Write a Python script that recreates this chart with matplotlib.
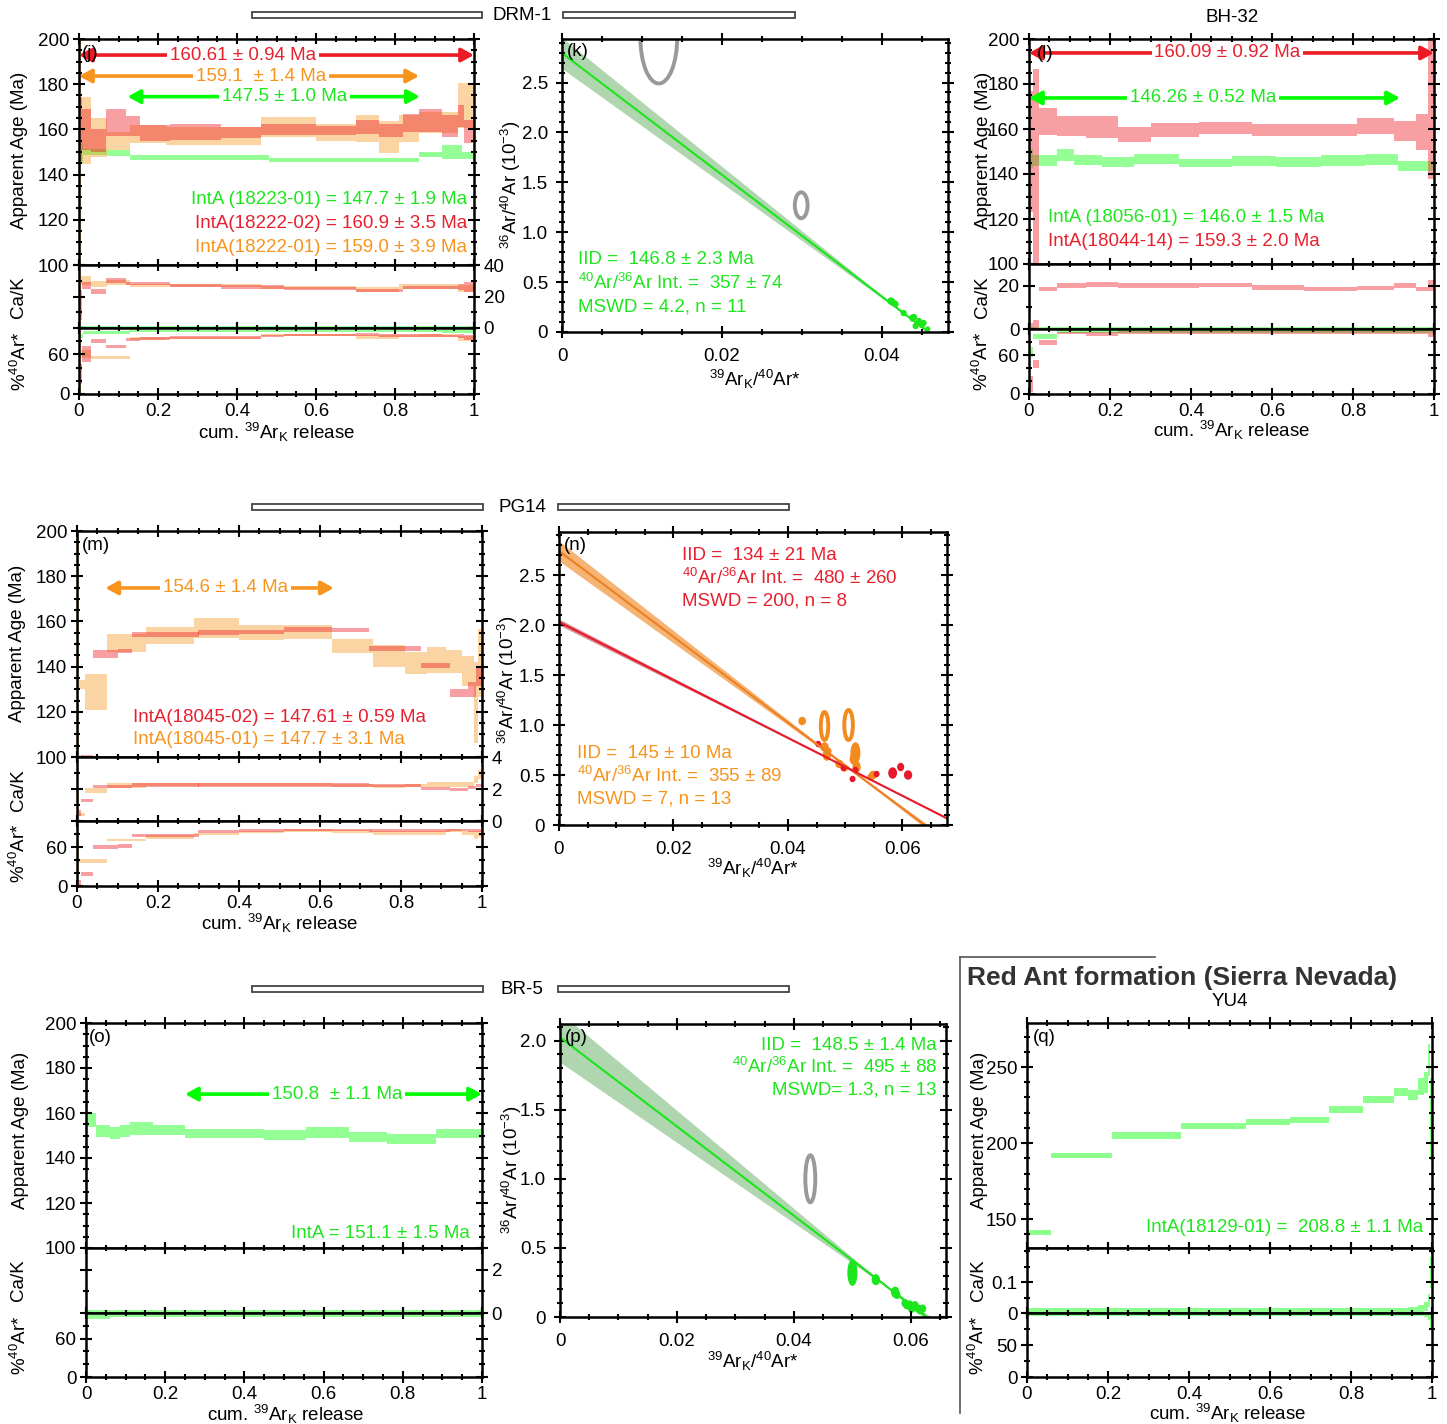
import numpy as np
import matplotlib
matplotlib.use("Agg")
import matplotlib.pyplot as plt
from matplotlib.patches import Ellipse, Rectangle
from matplotlib.lines import Line2D
from matplotlib.ticker import MultipleLocator, FixedLocator, FuncFormatter

plt.rcParams['font.family'] = ['Liberation Sans', 'DejaVu Sans']
plt.rcParams['mathtext.fontset'] = 'custom'
plt.rcParams['mathtext.rm'] = 'Liberation Sans'
plt.rcParams['mathtext.it'] = 'Liberation Sans:italic'
plt.rcParams['mathtext.bf'] = 'Liberation Sans:bold'
plt.rcParams['font.size'] = 13.5

# ---------------- data: step-heating spectra ----------------
# DRM-1, red = 18222-02
drm_r_edges = [0, 0.008, 0.03, 0.068, 0.12, 0.155, 0.23, 0.36, 0.46, 0.52, 0.6, 0.7, 0.76, 0.82, 0.86, 0.92, 0.96, 0.975, 1.0]
drm_r_age = [160, 160, 155, 163, 161.5, 158.5, 159, 158.5, 160, 160, 159.5, 161, 159.5, 163, 164, 161.5, 166, 159]
drm_r_age_err = [14, 9, 5, 6, 4.5, 3.5, 3.5, 2.5, 2.5, 2.5, 2, 3, 3, 4, 5, 5, 5, 5]
drm_r_cak = [14.5, 27, 23, 30, 28, 28, 27, 26, 26, 25, 25, 24, 24, 25.5, 25.5, 25.5, 26, 26]
drm_r_cak_err = [9.5, 2, 1.5, 1.5, 1, 1, 1, 1, 1, 1, 1, 1, 1, 1, 1, 1, 2, 3]
drm_r_rad = [30, 60, 80, 72, 83, 84, 86, 86, 88, 90, 90, 90, 89, 89, 89, 88, 88, 86]
drm_r_rad_err = [15, 12, 3, 2, 2, 2, 2, 2, 1.5, 1.5, 1.5, 2, 2, 2, 2, 2, 3, 4]
# DRM-1, orange = 18222-01
drm_o_edges = [0, 0.005, 0.03, 0.07, 0.13, 0.22, 0.46, 0.6, 0.7, 0.76, 0.81, 0.86, 0.96, 1.0]
drm_o_age = [150, 159.5, 156.5, 155, 158, 157, 161, 158.5, 160.5, 156.5, 160.5, 163, 170.5]
drm_o_age_err = [50, 15, 8.5, 4, 4, 4, 4.3, 3.7, 6, 7, 6, 4.5, 10]
drm_o_cak = [20, 30, 28, 29, 27, 27, 25.5, 25.5, 24.5, 24.5, 26.5, 26.5, 25]
drm_o_cak_err = [20, 3, 2, 1.5, 1, 1, 1, 1, 1.5, 1.5, 1.5, 1.5, 2]
drm_o_rad = [50, 60, 55, 55, 84, 85, 90, 90, 86, 86, 88, 89, 84]
drm_o_rad_err = [50, 6, 2, 2, 2, 2, 1.5, 1.5, 3, 3, 2, 2, 4]
# DRM-1, green = 18223-01
drm_g_edges = [0, 0.01, 0.07, 0.13, 0.48, 0.86, 0.92, 0.97, 1.0]
drm_g_age = [149.5, 150, 149.5, 147.5, 146.5, 149, 150, 148.5]
drm_g_age_err = [4.5, 1.3, 1.2, 1.1, 1, 1.2, 3, 1.7]
drm_g_cak = [0.6, 0.6, 0.6, 0.6, 0.6, 0.6, 0.6, 0.6]
drm_g_cak_err = [0.5, 0.5, 0.5, 0.5, 0.5, 0.5, 0.5, 0.5]
drm_g_rad = [88, 93, 93, 95, 95, 95, 95, 95]
drm_g_rad_err = [3, 2, 2, 1.5, 1.5, 1.5, 2, 2]

# BH-32, red = 18044-14
bh_r_edges = [0, 0.01, 0.025, 0.07, 0.14, 0.22, 0.3, 0.42, 0.55, 0.68, 0.81, 0.9, 0.955, 0.985, 1.0]
bh_r_age = [150, 143, 163.5, 161.3, 161, 157.7, 159.6, 160.4, 159.5, 159.5, 161.4, 159, 158.5, 169]
bh_r_age_err = [27, 43.5, 6, 4.3, 5, 3.3, 3, 2.5, 2.8, 2.8, 3.7, 4.5, 8, 31]
bh_r_cak = [1, 2, 18.5, 20, 20.5, 20, 20, 20.2, 19.2, 18.5, 19, 20, 18.5, 20]
bh_r_cak_err = [2, 2, 1, 1, 1, 1, 1, 1, 1, 1, 1, 1, 1, 2.5]
bh_r_rad = [15, 46, 79, 94, 92, 95, 95, 95, 95, 95, 95, 95, 95, 92]
bh_r_rad_err = [12, 6, 4, 2, 3, 2, 2, 2, 2, 2, 2, 2, 2, 5]
# BH-32, green = 18056-01
bh_g_edges = [0, 0.01, 0.07, 0.11, 0.18, 0.26, 0.37, 0.5, 0.61, 0.72, 0.83, 0.91, 1.0]
bh_g_age = [147, 146, 148.5, 146.3, 145.5, 146.8, 144.8, 145.8, 145.3, 146.1, 146.6, 143.6]
bh_g_age_err = [4.2, 2.6, 2.8, 2.2, 2.2, 2.2, 1.9, 2.2, 2.4, 2.4, 2.4, 2.2]
bh_g_cak = [0.5, 0.5, 0.5, 0.5, 0.5, 0.5, 0.5, 0.5, 0.5, 0.5, 0.5, 0.5]
bh_g_cak_err = [0.5, 0.5, 0.5, 0.5, 0.5, 0.5, 0.5, 0.5, 0.5, 0.5, 0.5, 0.5]
bh_g_rad = [65, 88, 96, 96, 96, 96, 96, 96, 96, 96, 96, 96]
bh_g_rad_err = [8, 4, 2, 2, 2, 2, 2, 2, 2, 2, 2, 2]

# PG14, red = 18045-02
pg_r_edges = [0, 0.01, 0.04, 0.1, 0.135, 0.3, 0.4, 0.51, 0.63, 0.72, 0.85, 0.92, 0.965, 0.985, 1.0]
pg_r_age = [60, 97, 145.5, 147, 154.3, 155, 155.4, 156.3, 156.2, 148, 140.4, 128.2, 130, 135.6]
pg_r_age_err = [10, 4, 1.7, 1, 1.2, 1.1, 1, 1.2, 1.1, 1.1, 1.1, 1.7, 3.3, 4.4]
pg_r_cak = [0.5, 1.3, 2.15, 2.15, 2.25, 2.25, 2.25, 2.25, 2.25, 2.2, 2.05, 1.95, 2.1, 2.2]
pg_r_cak_err = [0.2, 0.1, 0.1, 0.1, 0.1, 0.1, 0.1, 0.1, 0.1, 0.1, 0.1, 0.1, 0.1, 0.1]
pg_r_rad = [6, 18, 60, 62, 78, 84, 85, 86, 86, 85, 85, 86, 85, 85]
pg_r_rad_err = [4, 3, 3, 3, 2, 2, 2, 2, 2, 2, 2, 2, 2, 2]
# PG14, orange = 18045-01
pg_o_edges = [0, 0.005, 0.02, 0.074, 0.17, 0.29, 0.4, 0.51, 0.63, 0.73, 0.81, 0.865, 0.91, 0.95, 0.98, 0.99, 1.0]
pg_o_age = [150, 132, 128.8, 150.6, 153.9, 156.9, 155, 155.4, 149.1, 144.7, 141.7, 143, 142.2, 138, 124, 141.7]
pg_o_age_err = [50, 2, 7.8, 4, 3.7, 4.4, 3.3, 3, 3.3, 4.8, 4.8, 5.7, 5.1, 6.6, 18, 15]
pg_o_cak = [1, 0.4, 1.9, 2.2, 2.3, 2.3, 2.3, 2.3, 2.2, 2.15, 2.2, 2.3, 2.3, 2.3, 2.6, 2.9]
pg_o_cak_err = [1, 0.1, 0.15, 0.15, 0.1, 0.1, 0.1, 0.1, 0.1, 0.1, 0.1, 0.15, 0.15, 0.15, 0.2, 0.3]
pg_o_rad = [40, 38, 38, 71, 76, 80, 83, 85, 84, 82, 82, 82, 85, 82, 78, 80]
pg_o_rad_err = [40, 3, 3, 2, 3, 2, 2, 2, 2, 3, 3, 3, 2, 3, 6, 5]

# BR-5, green
br_edges = [0, 0.005, 0.025, 0.06, 0.085, 0.11, 0.17, 0.25, 0.345, 0.45, 0.555, 0.665, 0.76, 0.885, 1.0]
br_age = [164.8, 157, 151.9, 151.3, 152, 153.2, 152.6, 150.8, 151, 150.2, 151.3, 149.3, 148.6, 151]
br_age_err = [10.8, 3, 2.6, 2.7, 2.5, 2.8, 2.2, 1.9, 2, 2.2, 2.4, 2.2, 2.2, 1.9]
br_cak = [0.1, 0.1, 0.08, 0.08, 0.08, 0.08, 0.08, 0.08, 0.08, 0.08, 0.08, 0.1, 0.1, 0.1]
br_cak_err = [0.06, 0.06, 0.06, 0.06, 0.06, 0.06, 0.06, 0.06, 0.06, 0.06, 0.06, 0.06, 0.06, 0.06]
br_rad = [94, 94, 94, 97, 97, 97, 97, 97, 97, 97, 97, 97, 97, 97]
br_rad_err = [4, 4, 4, 2.5, 2.5, 2.5, 2.5, 2.5, 2.5, 2.5, 2.5, 2.5, 2.5, 2.5]

# YU4, green = 18129-01
yu_edges = [0, 0.06, 0.21, 0.38, 0.54, 0.65, 0.745, 0.83, 0.905, 0.94, 0.965, 0.98, 0.99, 0.995, 1.0]
yu_age = [141.2, 191.8, 205, 211.4, 214, 215.2, 221.9, 228.5, 233.4, 231.6, 237.3, 240, 254.8, 216]
yu_age_err = [1.9, 1.6, 2, 1.8, 1.8, 2, 2.2, 2.2, 2.7, 3.5, 5.5, 7, 10.5, 27]
yu_cak = [0.007, 0.006, 0.006, 0.006, 0.006, 0.006, 0.006, 0.006, 0.007, 0.009, 0.012, 0.02, 0.04, 0.13]
yu_cak_err = [0.009, 0.009, 0.009, 0.009, 0.009, 0.009, 0.009, 0.009, 0.01, 0.012, 0.014, 0.015, 0.02, 0.05]
yu_rad = [98, 98, 98, 98, 98, 98, 98, 98, 98, 98, 98, 97, 95, 88]
yu_rad_err = [3, 3, 3, 3, 3, 3, 3, 3, 3, 3, 3, 4, 6, 11]

# ---------------- data: inverse isochrons ----------------
drm_iso_x = [0.0411, 0.0413, 0.0417, 0.0427, 0.0438, 0.0440, 0.0442, 0.0446, 0.0450, 0.0452, 0.0457]
drm_iso_y = [0.31, 0.30, 0.28, 0.19, 0.14, 0.15, 0.06, 0.11, 0.07, 0.09, 0.03]
drm_iso_w = [0.0007, 0.0007, 0.0006, 0.0006, 0.0006, 0.0006, 0.0006, 0.0006, 0.0006, 0.0006, 0.0005]
drm_iso_h = [0.06, 0.06, 0.05, 0.05, 0.06, 0.05, 0.05, 0.05, 0.05, 0.05, 0.04]
drm_excl_x = [0.0121, 0.0299]
drm_excl_y = [2.95, 1.27]
drm_excl_w = [0.0046, 0.0016]
drm_excl_h = [0.92, 0.26]

pg_o_iso_x = [0.0425, 0.0464, 0.0468, 0.0470, 0.0490, 0.0499, 0.0515, 0.0518, 0.0520, 0.0545, 0.0549]
pg_o_iso_y = [1.04, 0.78, 0.70, 0.74, 0.61, 0.57, 0.66, 0.72, 0.58, 0.48, 0.50]
pg_o_iso_w = [0.0011, 0.0012, 0.0012, 0.0010, 0.0012, 0.0010, 0.0012, 0.0015, 0.0012, 0.0010, 0.0012]
pg_o_iso_h = [0.07, 0.08, 0.10, 0.06, 0.07, 0.06, 0.10, 0.20, 0.10, 0.06, 0.07]
pg_ring_x = [0.0464, 0.0506]
pg_ring_y = [0.99, 1.00]
pg_ring_w = [0.0013, 0.0015]
pg_ring_h = [0.28, 0.30]
pg_r_iso_x = [0.0453, 0.0497, 0.0513, 0.0518, 0.0555, 0.0583, 0.0597, 0.0610]
pg_r_iso_y = [0.81, 0.57, 0.46, 0.55, 0.51, 0.52, 0.58, 0.50]
pg_r_iso_w = [0.0008, 0.0008, 0.0008, 0.0008, 0.0008, 0.0013, 0.0010, 0.0012]
pg_r_iso_h = [0.05, 0.05, 0.05, 0.05, 0.05, 0.10, 0.07, 0.08]

br_iso_x = [0.0500, 0.0540, 0.0573, 0.0576, 0.0590, 0.0593, 0.0598, 0.0601, 0.0604, 0.0607, 0.0613, 0.0615, 0.0620]
br_iso_y = [0.32, 0.27, 0.18, 0.16, 0.10, 0.085, 0.09, 0.06, 0.068, 0.085, 0.06, 0.05, 0.06]
br_iso_w = [0.0015, 0.0012, 0.0012, 0.0010, 0.0010, 0.0010, 0.0010, 0.0010, 0.0010, 0.0010, 0.0010, 0.0010, 0.0010]
br_iso_h = [0.18, 0.07, 0.07, 0.05, 0.05, 0.05, 0.05, 0.05, 0.05, 0.05, 0.05, 0.05, 0.05]
br_excl_x = [0.0428]
br_excl_y = [1.0]
br_excl_w = [0.0017]
br_excl_h = [0.34]

# isochron fits: y-intercept, x-intercept, band half width at x=0, centroid x, min half width
drm_fit = (2.795, 0.0458, 0.155, 0.0435, 0.008)
pg_o_fit = (2.74, 0.0639, 0.10, 0.052, 0.012)
pg_r_fit = (2.03, 0.0701, 0.03, 0.053, 0.005)
br_fit = (2.024, 0.0627, 0.18, 0.056, 0.008)

RED = '#ed1c24'
ORANGE = '#f7941d'
GREEN = '#00ff00'
RED_T = '#e8202e'
ORANGE_T = '#f7941d'
GREEN_T = '#1ee61e'
GRAY = '#999999'

W, H = 1447, 1424
fig = plt.figure(figsize=(W / 100, H / 100), dpi=100)


def px_axes(x0, y0, x1, y1):
    return fig.add_axes([x0 / W, 1 - y1 / H, (x1 - x0) / W, (y1 - y0) / H])


def T(x, y, s, **kw):
    kw.setdefault('va', 'center')
    return fig.text(x / W, 1 - y / H, s, **kw)


def style(ax, xmaj, xmin, ymaj, ymin, xlim, ylim, xpad=2.5, ypad=3):
    ax.set_xlim(*xlim)
    ax.set_ylim(*ylim)
    for sp in ax.spines.values():
        sp.set_linewidth(1.8)
    ax.xaxis.set_major_locator(MultipleLocator(xmaj))
    ax.xaxis.set_minor_locator(MultipleLocator(xmin))
    if isinstance(ymaj, list):
        ax.yaxis.set_major_locator(FixedLocator(ymaj))
    else:
        ax.yaxis.set_major_locator(MultipleLocator(ymaj))
    ax.yaxis.set_minor_locator(MultipleLocator(ymin))
    ax.tick_params(which='both', direction='inout', top=True, right=True, width=1.5, labelsize=13.5)
    ax.tick_params(axis='x', pad=xpad)
    ax.tick_params(axis='y', pad=ypad)
    ax.tick_params(which='major', length=8)
    ax.tick_params(which='minor', length=5)
    ax.xaxis.set_major_formatter(FuncFormatter(lambda v, p: f'{v:g}'))


def steps(ax, edges, vals, errs, color, alpha):
    e = np.asarray(edges, float)
    v = np.asarray(vals, float)
    s = np.asarray(errs, float)
    ax.bar(e[:-1], 2 * s, width=np.diff(e), bottom=v - s, align='edge',
           color=color, alpha=alpha, linewidth=0)


def spectrum(x0, x1, ya, yb, yc, yd, age_lim, age_maj, age_min, cak_lim, cak_maj, cak_min,
             cak_right, rad_maj, rad_min):
    aa = px_axes(x0, ya, x1, yb)
    ac = px_axes(x0, yb, x1, yc)
    ar = px_axes(x0, yc, x1, yd)
    style(aa, 0.2, 0.05, age_maj, age_min, (0, 1), age_lim)
    style(ac, 0.2, 0.05, cak_maj, cak_min, (0, 1), cak_lim)
    style(ar, 0.2, 0.05, rad_maj, rad_min, (0, 1), (0, 100))
    aa.tick_params(labelbottom=False)
    ac.tick_params(labelbottom=False)
    if cak_right:
        ac.tick_params(labelleft=False, labelright=True)
    ac.yaxis.set_major_formatter(FuncFormatter(lambda v, p: f'{v:g}'))
    return aa, ac, ar


def plateau(ax, xa, xb, y, label, xt, color, tcolor):
    ax.annotate('', xy=(xb, y), xytext=(xa, y), annotation_clip=False,
                arrowprops=dict(arrowstyle='<|-|>,head_length=0.55,head_width=0.3',
                                color=color, lw=2.6, shrinkA=0, shrinkB=0))
    ax.text(xt, y, label, color=tcolor, ha='center', va='center', fontsize=13.5,
            bbox=dict(facecolor='white', edgecolor='none', pad=2))


def iso_axes(x0, y0, x1, y1, xlim, ylim):
    ax = px_axes(x0, y0, x1, y1)
    style(ax, 0.02, 0.005, 0.5, 0.1, xlim, ylim, xpad=7.5, ypad=6)
    ax.yaxis.set_major_formatter(FuncFormatter(lambda v, p: '0' if abs(v) < 1e-9 else f'{v:.1f}'))
    return ax


def iso_fit(ax, fit, xmax, lcolor, bcolor, balpha):
    a, xint, s0, xc, sc = fit
    xs = np.linspace(0, xmax, 300)
    yl = a - a / xint * xs
    hw = np.sqrt(sc ** 2 + (s0 ** 2 - sc ** 2) * (1 - xs / xc) ** 2)
    ax.fill_between(xs, yl - hw, yl + hw, color=bcolor, alpha=balpha, lw=0)
    ax.plot(xs, yl, color=lcolor, lw=1.5)


def ellipses(ax, xs, ys, ws, hs, color, filled=True):
    for x, y, w, h in zip(xs, ys, ws, hs):
        if filled:
            ax.add_patch(Ellipse((x, y), w, h, facecolor=color, edgecolor=color, lw=1))
        else:
            ax.add_patch(Ellipse((x, y), w, h, facecolor='none', edgecolor=color, lw=2.8))


def bracket(y, xl0, xl1, xr0, xr1, label, xt):
    for a, b in [(xl0, xl1), (xr0, xr1)]:
        fig.patches.append(Rectangle((a / W, 1 - (y + 3) / H), (b - a) / W, 6 / H,
                                     transform=fig.transFigure, facecolor='white',
                                     edgecolor='#444444', lw=1.3))
    T(xt, y, label, ha='center', fontsize=13.5)


def spec_labels(xage, xcak, xrad, yage, ycak, yrad, xc, yx):
    T(xage, yage, 'Apparent Age (Ma)', rotation=90, ha='center')
    T(xcak, ycak, 'Ca/K', rotation=90, ha='center')
    T(xrad, yrad, '%$^{40}$Ar*', rotation=90, ha='center')
    T(xc, yx, 'cum. $^{39}$Ar$_{\\mathrm{K}}$ release', ha='center')


def iso_labels(xl, yl, xc, yx):
    T(xl, yl, '$^{36}$Ar/$^{40}$Ar (10$^{-3}$)', rotation=90, ha='center')
    T(xc, yx, '$^{39}$Ar$_{\\mathrm{K}}$/$^{40}$Ar*', ha='center')


# ================= Row 1: DRM-1 and BH-32 =================
bracket(15, 252, 482, 563, 795, 'DRM-1', 522)

aj, cj, rj = spectrum(79, 474, 39, 265, 328, 394, (100, 200), 20, 5, (0, 40), 20, 10, True, [0, 60], 20)
for ax, key in [(aj, 'age'), (cj, 'cak'), (rj, 'rad')]:
    steps(ax, drm_g_edges, globals()['drm_g_' + key], globals()['drm_g_' + key + '_err'], GREEN, 0.42)
    steps(ax, drm_o_edges, globals()['drm_o_' + key], globals()['drm_o_' + key + '_err'], ORANGE, 0.4)
    steps(ax, drm_r_edges, globals()['drm_r_' + key], globals()['drm_r_' + key + '_err'], RED, 0.42)
plateau(aj, 0, 1, 192.9, '160.61 ± 0.94 Ma', 0.415, RED, RED_T)
plateau(aj, 0, 0.861, 183.6, '159.1  ± 1.4 Ma', 0.46, ORANGE, ORANGE_T)
plateau(aj, 0.123, 0.863, 174.5, '147.5 ± 1.0 Ma', 0.52, GREEN, GREEN_T)
T(82, 53, '(j)', ha='left')
T(467, 200, 'IntA (18223-01) = 147.7 ± 1.9 Ma', ha='right', color=GREEN_T)
T(467, 224, 'IntA(18222-02) = 160.9 ± 3.5 Ma', ha='right', color=RED_T)
T(467, 248, 'IntA(18222-01) = 159.0 ± 3.9 Ma', ha='right', color=ORANGE_T)
spec_labels(20, 19, 20, 150, 297, 361, 277, 432)

ak = iso_axes(562, 39, 948, 332, (0, 0.04825), (0, 2.936))
iso_fit(ak, drm_fit, 0.04825, '#19e619', '#3a9a3a', 0.4)
ellipses(ak, drm_excl_x, drm_excl_y, drm_excl_w, drm_excl_h, GRAY, filled=False)
ellipses(ak, drm_iso_x, drm_iso_y, drm_iso_w, drm_iso_h, GREEN_T)
T(567, 52, '(k)', ha='left')
T(578, 260, 'IID =  146.8 ± 2.3 Ma', ha='left', color=GREEN_T)
T(578, 283, '$^{40}$Ar/$^{36}$Ar Int. =  357 ± 74', ha='left', color=GREEN_T)
T(578, 307, 'MSWD = 4.2, n = 11', ha='left', color=GREEN_T)
iso_labels(511, 185, 755, 379)

T(1232, 17, 'BH-32', ha='center')
al, cl, rl = spectrum(1029, 1434, 39, 264, 329, 394, (100, 200), 20, 5, (0, 30), 20, 10, False, [0, 60], 20)
for ax, key in [(al, 'age'), (cl, 'cak'), (rl, 'rad')]:
    steps(ax, bh_g_edges, globals()['bh_g_' + key], globals()['bh_g_' + key + '_err'], GREEN, 0.42)
    steps(ax, bh_r_edges, globals()['bh_r_' + key], globals()['bh_r_' + key + '_err'], RED, 0.42)
plateau(al, 0, 1, 193.8, '160.09 ± 0.92 Ma', 0.49, RED, RED_T)
plateau(al, 0, 0.916, 173.8, '146.26 ± 0.52 Ma', 0.43, GREEN, GREEN_T)
T(1037, 53, '(l)', ha='left')
T(1048, 218, 'IntA (18056-01) = 146.0 ± 1.5 Ma', ha='left', color=GREEN_T)
T(1048, 242, 'IntA(18044-14) = 159.3 ± 2.0 Ma', ha='left', color=RED_T)
spec_labels(983, 982, 982, 150, 297, 361, 1232, 430)

# ================= Row 2: PG14 =================
bracket(507, 252, 483, 558, 789, 'PG14', 522)

am, cm, rm = spectrum(77, 482, 531, 757, 821, 886, (100, 200), 20, 5, (0, 4), 2, 1, True, [0, 60], 20)
for ax, key in [(am, 'age'), (cm, 'cak'), (rm, 'rad')]:
    steps(ax, pg_o_edges, globals()['pg_o_' + key], globals()['pg_o_' + key + '_err'], ORANGE, 0.4)
    steps(ax, pg_r_edges, globals()['pg_r_' + key], globals()['pg_r_' + key + '_err'], RED, 0.42)
plateau(am, 0.07, 0.634, 174.8, '154.6 ± 1.4 Ma', 0.366, ORANGE, ORANGE_T)
T(82, 545, '(m)', ha='left')
T(133, 717, 'IntA(18045-02) = 147.61 ± 0.59 Ma', ha='left', color=RED_T)
T(133, 740, 'IntA(18045-01) = 147.7 ± 3.1 Ma', ha='left', color=ORANGE_T)
spec_labels(18, 18, 19, 643, 790, 853, 280, 923)

an = iso_axes(559, 532, 947, 825, (0, 0.0678), (0, 2.93))
iso_fit(an, pg_o_fit, 0.0678, '#ee8020', '#f08a2a', 0.65)
iso_fit(an, pg_r_fit, 0.0678, '#e8192c', '#c0303a', 0.55)
ellipses(an, pg_ring_x, pg_ring_y, pg_ring_w, pg_ring_h, '#f28a1e', filled=False)
ellipses(an, pg_o_iso_x, pg_o_iso_y, pg_o_iso_w, pg_o_iso_h, '#f28a1e')
ellipses(an, pg_r_iso_x, pg_r_iso_y, pg_r_iso_w, pg_r_iso_h, '#e8192c')
T(564, 545, '(n)', ha='left')
T(682, 555, 'IID =  134 ± 21 Ma', ha='left', color=RED_T)
T(682, 578, '$^{40}$Ar/$^{36}$Ar Int. =  480 ± 260', ha='left', color=RED_T)
T(682, 601, 'MSWD = 200, n = 8', ha='left', color=RED_T)
T(577, 753, 'IID =  145 ± 10 Ma', ha='left', color=ORANGE_T)
T(577, 776, '$^{40}$Ar/$^{36}$Ar Int. =  355 ± 89', ha='left', color=ORANGE_T)
T(577, 799, 'MSWD = 7, n = 13', ha='left', color=ORANGE_T)
iso_labels(508, 680, 753, 868)

# ================= Row 3: BR-5 and YU4 =================
bracket(989, 252, 483, 558, 789, 'BR-5', 522)

ao, co, ro = spectrum(86, 482, 1023, 1248, 1313, 1377, (100, 200), 20, 5, (0, 3), 2, 1, True, [0, 60], 20)
steps(ao, br_edges, br_age, br_age_err, GREEN, 0.42)
steps(co, br_edges, br_cak, br_cak_err, GREEN, 0.42)
steps(ro, br_edges, br_rad, br_rad_err, GREEN, 0.42)
plateau(ao, 0.25, 1.0, 168.4, '150.8  ± 1.1 Ma', 0.634, GREEN, GREEN_T)
T(89, 1037, '(o)', ha='left')
T(470, 1233, 'IntA = 151.1 ± 1.5 Ma', ha='right', color=GREEN_T)
spec_labels(21, 19, 20, 1130, 1280, 1345, 286, 1414)

ap = iso_axes(560, 1024, 946, 1317, (0, 0.066), (0, 2.12))
iso_fit(ap, br_fit, 0.066, '#19e619', '#3a9a3a', 0.4)
ellipses(ap, br_excl_x, br_excl_y, br_excl_w, br_excl_h, GRAY, filled=False)
ellipses(ap, br_iso_x, br_iso_y, br_iso_w, br_iso_h, GREEN_T)
T(565, 1037, '(p)', ha='left')
T(937, 1045, 'IID =  148.5 ± 1.4 Ma', ha='right', color=GREEN_T)
T(937, 1067, '$^{40}$Ar/$^{36}$Ar Int. =  495 ± 88', ha='right', color=GREEN_T)
T(937, 1090, 'MSWD= 1.3, n = 13', ha='right', color=GREEN_T)
iso_labels(512, 1170, 753, 1361)

fig.add_artist(Line2D([960 / W, 960 / W], [1 - 957 / H, 1 - 1413 / H], transform=fig.transFigure,
                      color='#555555', lw=1.2))
fig.add_artist(Line2D([960 / W, 1155 / W], [1 - 957 / H, 1 - 957 / H], transform=fig.transFigure,
                      color='#555555', lw=1.2))
T(967, 978, 'Red Ant formation (Sierra Nevada)', ha='left', fontsize=19, fontweight='bold', color='#333333')
T(1230, 1001, 'YU4', ha='center')

aq, cq, rq = spectrum(1027, 1432, 1023, 1248, 1313, 1377, (131, 279), 50, 10, (0, 0.21), [0, 0.1], 0.05, False, [0, 50], 25)
steps(aq, yu_edges, yu_age, yu_age_err, GREEN, 0.45)
steps(cq, yu_edges, yu_cak, yu_cak_err, GREEN, 0.45)
steps(rq, yu_edges, yu_rad, yu_rad_err, GREEN, 0.45)
T(1033, 1037, '(q)', ha='left')
T(1423, 1228, 'IntA(18129-01) =  208.8 ± 1.1 Ma', ha='right', color=GREEN_T)
spec_labels(980, 978, 978, 1130, 1280, 1345, 1228, 1413)

fig.savefig('out.png', dpi=100)
